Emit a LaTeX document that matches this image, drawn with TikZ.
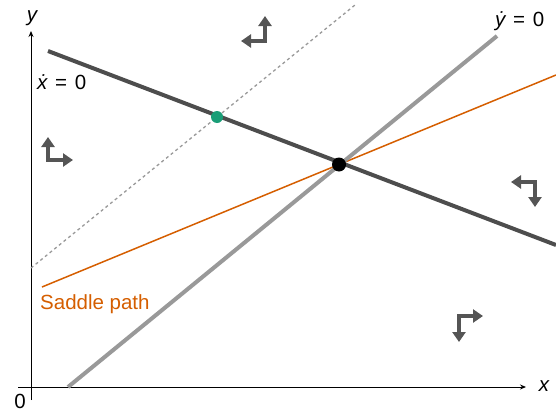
\documentclass[tikz,border=0pt]{standalone}
\usepackage{fontspec}
\setmainfont{Liberation Sans}
\usetikzlibrary{arrows.meta}
\definecolor{darkl}{HTML}{4D4D4D}
\definecolor{lightl}{HTML}{999999}
\definecolor{saddle}{HTML}{D55E00}
\definecolor{greendot}{HTML}{1A9E77}
\definecolor{arrowc}{HTML}{555555}
\begin{document}
\begin{tikzpicture}[x=1pt,y=-1pt,
  axis/.style={line width=0.9pt,-{Stealth[length=6pt,width=5pt]}},
  lbl/.style={font=\fontsize{20.5}{24}\selectfont,inner sep=0pt},
  dirarrow/.style={line width=4pt,color=arrowc,line join=miter,
    {Triangle[length=10pt,width=13pt]}-{Triangle[length=10pt,width=13pt]}},
]
\useasboundingbox (0,0) rectangle (556,415);
% axes
\coordinate (o) at (31,387);
\coordinate (xe) at (526,387);
\coordinate (ye) at (31,31);
\coordinate (xs) at (18,387);
\coordinate (ys) at (31,400);
\draw[axis] (xs) -- (xe);
\draw[axis] (ys) -- (ye);
\node[lbl,anchor=base] (xl) at (544,391) {\itshape x};
\node[lbl,anchor=base] (yl) at (32,21) {\itshape y};
\node[lbl,anchor=base] (zero) at (20,408) {0};
% dotted line
\coordinate (d1) at (31,268);
\coordinate (d2) at (355,5);
\draw[lightl,line width=1.3pt,dash pattern=on 3pt off 3pt] (d1) -- (d2);
% saddle path
\coordinate (s1) at (42,287);
\coordinate (s2) at (556,75);
\draw[saddle,line width=1.5pt] (s1) -- (s2);
% ydot = 0
\coordinate (y1) at (68,387);
\coordinate (y2) at (497,36);
\draw[lightl,line width=4pt] (y1) -- (y2);
% xdot = 0
\coordinate (x1) at (48,51);
\coordinate (x2) at (556,245);
\draw[darkl,line width=4pt] (x1) -- (x2);
% dots
\node[circle,fill=greendot,minimum size=12pt,inner sep=0pt] (g) at (217,117) {};
\node[circle,fill=black,minimum size=14pt,inner sep=0pt] (b) at (339,164.5) {};
% labels
\node[lbl,anchor=base west] (xdot) at (37,89) {\itshape\.{x}\upshape\hspace{0.38em}=\hspace{0.38em}0};
\node[lbl,anchor=base west] (ydot) at (495,26) {\itshape\.{y}\upshape\hspace{0.38em}=\hspace{0.38em}0};
\node[lbl,anchor=base west,text=saddle] (sp) at (40,309) {Saddle path};
% direction arrows
\draw[dirarrow] (241,41) -- (265,41) -- (265,16);
\draw[dirarrow] (48,137) -- (48,160) -- (73,160);
\draw[dirarrow] (511,182) -- (535,182) -- (535,207);
\draw[dirarrow] (483,316) -- (459,316) -- (459,342);
\end{tikzpicture}
\end{document}
